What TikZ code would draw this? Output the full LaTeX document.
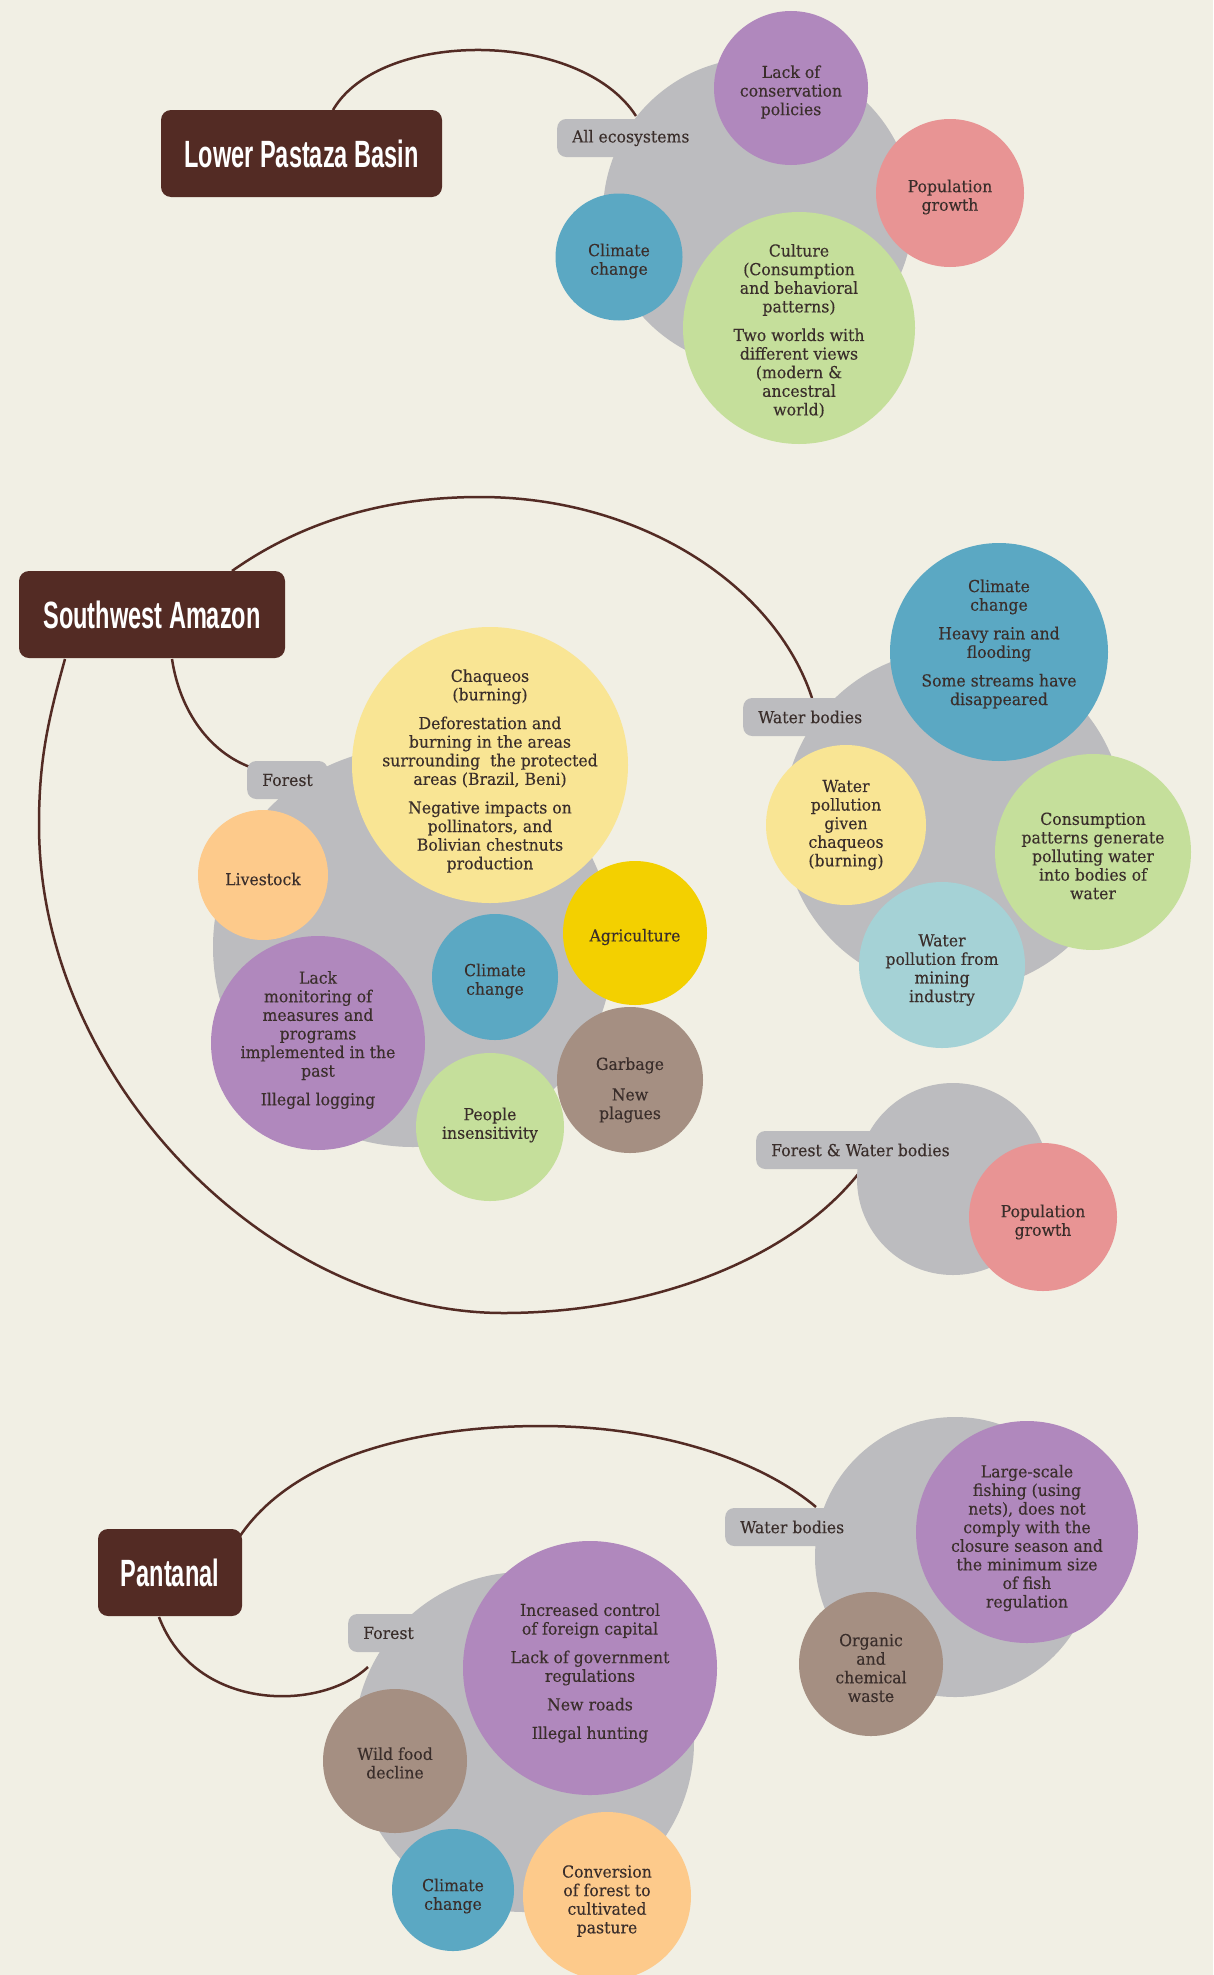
\documentclass[tikz,border=0pt]{standalone}
\usepackage{fontspec}
\newfontfamily\bodyf[FakeStretch=0.95,FakeBold=0.25]{DejaVu Serif}
\newfontfamily\titlef[FakeStretch=0.62]{Liberation Sans}
\newcommand\bodytxt{\bodyf\fontsize{16.5}{18.6}\selectfont}
\newcommand\ttltxt{\titlef\bfseries\fontsize{38}{40}\selectfont}
\definecolor{bgc}{HTML}{F1EFE4}
\definecolor{titlec}{HTML}{532B24}
\definecolor{grayc}{HTML}{BCBCBF}
\definecolor{purplec}{HTML}{B088BD}
\definecolor{pinkc}{HTML}{E89494}
\definecolor{bluec}{HTML}{5BA8C3}
\definecolor{greenc}{HTML}{C5DF9B}
\definecolor{yellowc}{HTML}{F9E594}
\definecolor{goldc}{HTML}{F3D000}
\definecolor{orangec}{HTML}{FDCA8B}
\definecolor{brownc}{HTML}{A58F82}
\definecolor{lbluec}{HTML}{A5D2D6}
\definecolor{txtc}{HTML}{3A2E2B}
\tikzset{
  bub/.style={circle, inner sep=0pt, draw=none},
  btxt/.style={align=center, font=\bodytxt, text=txtc, inner sep=0pt, yshift=-4pt},
  grp/.style={circle, fill=grayc, inner sep=0pt},
  tagbox/.style={fill=grayc, rounded corners=9pt, anchor=west, minimum height=38pt, inner xsep=15pt, font=\bodytxt, text=txtc},
  ttl/.style={fill=titlec, rounded corners=10pt, text=white, font=\ttltxt, minimum height=87pt, inner sep=0pt},
  conn/.style={draw=titlec, line width=2.5pt},
}
\begin{document}
\begin{tikzpicture}[x=1pt,y=-1pt]
\fill[bgc] (0,0) rectangle (1213,1975);
\useasboundingbox (0,0) rectangle (1213,1975);

% ---------- Lower Pastaza Basin ----------
\node[ttl, minimum width=281pt] (lpT) at (301.5,153.5) {Lower Pastaza Basin};
\coordinate (lpS) at (333,110);
\coordinate (lpE) at (636,116);
\draw[conn] (lpS) .. controls (380,29) and (580,29) .. (lpE);
\node[grp, minimum size=310pt] (lpG) at (758,213) {};
\node[tagbox] (lpTag) at (557,138) {All ecosystems};
\node[bub, fill=purplec, minimum size=154pt] (lpLack) at (791,88) {};
\node[btxt] (lpLackT) at (lpLack) {Lack of\\conservation\\policies};
\node[bub, fill=pinkc, minimum size=148pt] (lpPop) at (950,193) {};
\node[btxt] (lpPopT) at (lpPop) {Population\\growth};
\node[bub, fill=bluec, minimum size=127pt] (lpClim) at (619,257) {};
\node[btxt] (lpClimT) at (lpClim) {Climate\\change};
\node[bub, fill=greenc, minimum size=232pt] (lpCult) at (799,328) {};
\node[btxt] (lpCultT) at (799,327) {Culture\\(Consumption\\and behavioral\\patterns)\\[10pt]Two worlds with\\different views\\(modern \&\\ancestral\\world)};

% ---------- Southwest Amazon ----------
\node[ttl, minimum width=266pt] (swT) at (152,614.5) {Southwest Amazon};
\coordinate (swS1) at (232,571);
\coordinate (swE1) at (812,698);
\coordinate (swS2) at (65,659);
\coordinate (swE2) at (859,1173);
\coordinate (swS3) at (172,659);
\coordinate (swE3) at (250,767);
\draw[conn] (swS1) .. controls (290,530) and (370,497) .. (480,497) .. controls (640,497) and (775,585) .. (swE1);
\draw[conn] (swS2) .. controls (48,720) and (39,760) .. (39,825) .. controls (39,1080) and (270,1313) .. (503,1313) .. controls (650,1313) and (790,1260) .. (swE2);
\draw[conn] (swS3) .. controls (180,712) and (210,752) .. (swE3);

% Forest group
\node[grp, minimum size=400pt] (swFG) at (413,947) {};
\node[tagbox] (swFTag) at (247,780) {Forest};
\node[bub, fill=yellowc, minimum size=276pt] (swCha) at (490,765) {};
\node[btxt] (swChaT) at (490,767) {Chaqueos\\(burning)\\[10pt]Deforestation and\\burning in the areas\\surrounding\ \ the protected\\areas (Brazil, Beni)\\[10pt]Negative impacts on\\pollinators, and\\Bolivian chestnuts\\production};
\node[bub, fill=orangec, minimum size=130pt] (swLive) at (263,875) {};
\node[btxt] (swLiveT) at (swLive) {Livestock};
\node[bub, fill=goldc, minimum size=144pt] (swAgri) at (635,933) {};
\node[btxt] (swAgriT) at (swAgri) {Agriculture};
\node[bub, fill=bluec, minimum size=126pt] (swClim) at (495,977) {};
\node[btxt] (swClimT) at (swClim) {Climate\\change};
\node[bub, fill=purplec, minimum size=214pt] (swLack) at (318,1043) {};
\node[btxt] (swLackT) at (318,1036) {Lack\\monitoring of\\measures and\\programs\\implemented in the\\past\\[10pt]Illegal logging};
\node[bub, fill=brownc, minimum size=146pt] (swGarb) at (630,1080) {};
\node[btxt] (swGarbT) at (630,1086) {Garbage\\[12pt]New\\plagues};
\node[bub, fill=greenc, minimum size=148pt] (swPeop) at (490,1127) {};
\node[btxt] (swPeopT) at (490,1121) {People\\insensitivity};

% Water bodies group
\node[grp, minimum size=341pt] (swWG) at (953.6,820.6) {};
\node[tagbox] (swWTag) at (743,717) {Water bodies};
\node[bub, fill=bluec, minimum size=218pt] (swWClim) at (999,652) {};
\node[btxt] (swWClimT) at (999,640) {Climate\\change\\[10pt]Heavy rain and\\flooding\\[10pt]Some streams have\\disappeared};
\node[bub, fill=yellowc, minimum size=160pt] (swWPol) at (846,825) {};
\node[btxt] (swWPolT) at (846,821) {Water\\pollution\\given\\chaqueos\\(burning)};
\node[bub, fill=greenc, minimum size=196pt] (swWCons) at (1093,852) {};
\node[btxt] (swWConsT) at (swWCons) {Consumption\\patterns generate\\polluting water\\into bodies of\\water};
\node[bub, fill=lbluec, minimum size=166pt] (swWMin) at (942,965) {};
\node[btxt] (swWMinT) at (942,966) {Water\\pollution from\\mining\\industry};

% Forest & Water bodies group
\node[grp, minimum size=192pt] (swFWG) at (953,1179) {};
\node[tagbox] (swFWTag) at (756,1150) {Forest \& Water bodies};
\node[bub, fill=pinkc, minimum size=148pt] (swFWPop) at (1043,1217) {};
\node[btxt] (swFWPopT) at (1043,1218) {Population\\growth};

% ---------- Pantanal ----------
\node[ttl, minimum width=144pt] (pT) at (170,1572.5) {Pantanal};
\coordinate (pS1) at (240,1536);
\coordinate (pE1) at (816,1507);
\coordinate (pS2) at (159,1617);
\coordinate (pE2) at (368,1667);
\draw[conn] (pS1) .. controls (295,1455) and (420,1426) .. (541,1426) .. controls (660,1426) and (760,1460) .. (pE1);
\draw[conn] (pS2) .. controls (195,1712) and (320,1712) .. (pE2);

% Forest group
\node[grp, minimum size=340pt] (pFG) at (524,1742) {};
\node[tagbox] (pFTag) at (348,1633) {Forest};
\node[bub, fill=purplec, minimum size=254pt] (pInc) at (590,1668) {};
\node[btxt] (pIncT) at (590,1669) {Increased control\\of foreign capital\\[10pt]Lack of government\\regulations\\[10pt]New roads\\[10pt]Illegal hunting};
\node[bub, fill=brownc, minimum size=144pt] (pWild) at (395,1761) {};
\node[btxt] (pWildT) at (395,1759) {Wild food\\decline};
\node[bub, fill=bluec, minimum size=122pt] (pClim) at (453,1890) {};
\node[btxt] (pClimT) at (453,1892) {Climate\\change};
\node[bub, fill=orangec, minimum size=168pt] (pConv) at (607,1896) {};
\node[btxt] (pConvT) at (607,1897) {Conversion\\of forest to\\cultivated\\pasture};

% Water bodies group
\node[grp, minimum size=280pt] (pWG) at (955,1557) {};
\node[tagbox] (pWTag) at (725,1527) {Water bodies};
\node[bub, fill=purplec, minimum size=222pt] (pFish) at (1027,1532) {};
\node[btxt] (pFishT) at (1027,1534) {Large-scale\\fishing (using\\nets), does not\\comply with the\\closure season and\\the minimum size\\of fish\\regulation};
\node[bub, fill=brownc, minimum size=144pt] (pOrg) at (871,1664) {};
\node[btxt] (pOrgT) at (pOrg) {Organic\\and\\chemical\\waste};
\end{tikzpicture}
\end{document}
